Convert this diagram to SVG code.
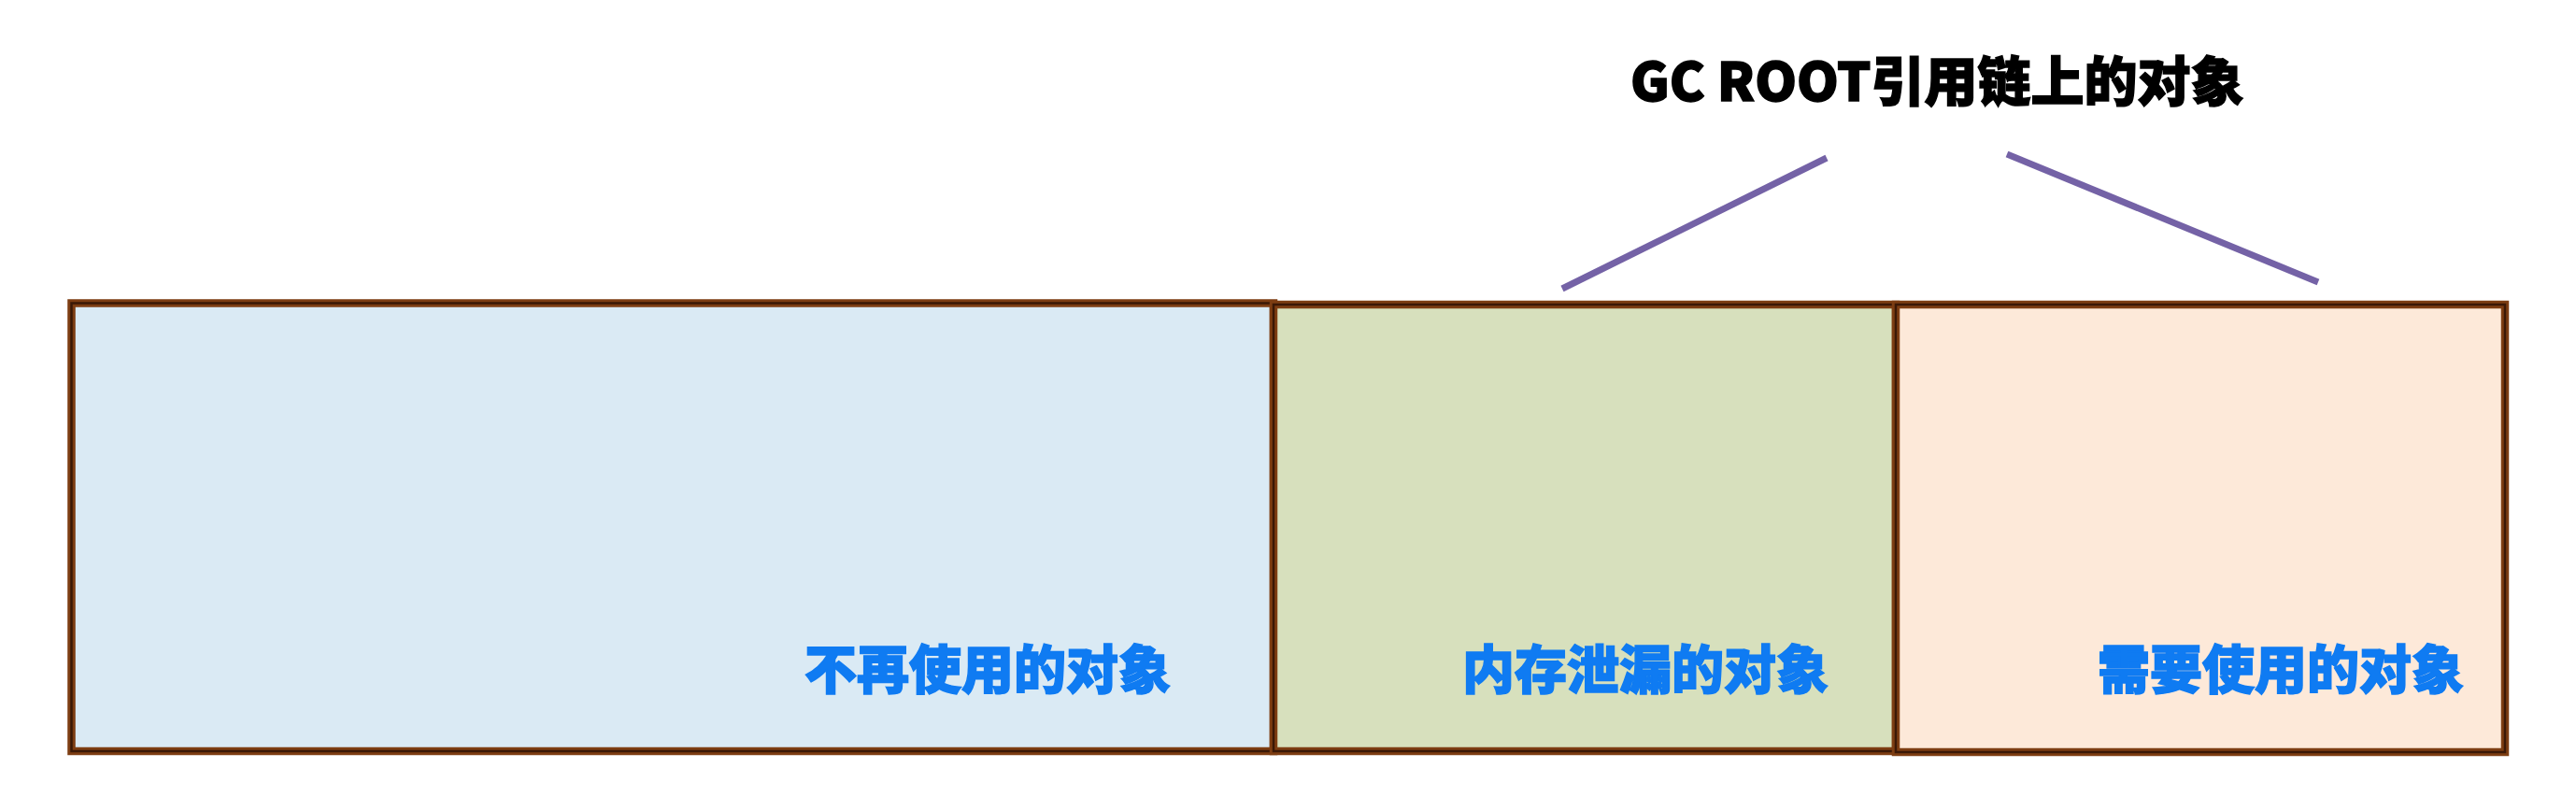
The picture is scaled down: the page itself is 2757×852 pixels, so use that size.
<svg xmlns="http://www.w3.org/2000/svg" width="2757" height="852" viewBox="0 0 2757 852">
<style>
.box-outer{stroke:#7d3d12;stroke-width:8.5;}
.box-inner{fill:none;stroke:#3a1806;stroke-width:2.5;}
.label{font-family:"Noto Sans CJK SC","Noto Sans",sans-serif;font-weight:900;font-size:56px;fill:#0f7bf2;stroke:#0f7bf2;stroke-width:1.5;}
.title{font-family:"Noto Sans CJK SC","Noto Sans",sans-serif;font-weight:900;font-size:57px;fill:#000;stroke:#000;stroke-width:1.5;}
.link{stroke:#7462a6;stroke-width:7;stroke-linecap:butt;}
</style>
<rect width="2757" height="852" fill="#ffffff"/>
<g id="title">
<text class="title" x="1745" y="108">GC ROOT引用链上的对象</text>
</g>
<g id="connectors">
<line class="link" x1="1672" y1="309" x2="1955" y2="169"/>
<line class="link" x1="2148" y1="165" x2="2481" y2="302"/>
</g>
<g id="node-unused">
<rect class="box-outer" x="76.5" y="324.5" width="1286.5" height="479.5" fill="#daeaf4"/>
<rect class="box-inner" x="76.5" y="324.5" width="1286.5" height="479.5"/>
<text class="label" x="861" y="737">不再使用的对象</text>
</g>
<g id="node-leak">
<rect class="box-outer" x="1363" y="326" width="666" height="478" fill="#d7e0bd"/>
<rect class="box-inner" x="1363" y="326" width="666" height="478"/>
<text class="label" x="1565" y="737">内存泄漏的对象</text>
</g>
<g id="node-used">
<rect class="box-outer" x="2029" y="326" width="652" height="479" fill="#fde9d9"/>
<rect class="box-inner" x="2029" y="326" width="652" height="479"/>
<text class="label" x="2245" y="737">需要使用的对象</text>
</g>
</svg>
